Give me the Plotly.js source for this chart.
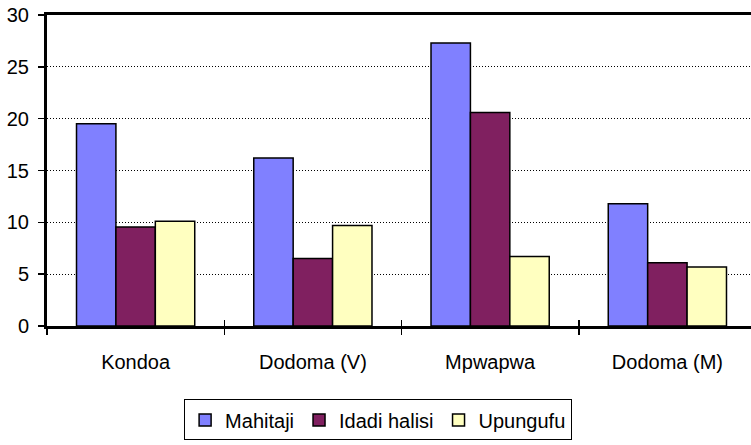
<!DOCTYPE html>
<html><head><meta charset="utf-8">
<script src="https://cdn.plot.ly/plotly-3.0.1.min.js"></script>
<style>html,body{margin:0;padding:0;overflow:hidden;background:#fff;}#chart{width:760px;height:445px;}</style>
</head><body><div id="chart"></div>
<script>
const categories = ["Kondoa", "Dodoma (V)", "Mpwapwa", "Dodoma (M)"];
const seriesNames = ["Mahitaji", "Idadi halisi", "Upungufu"];
const mahitaji = [19.5, 16.2, 27.3, 11.8];
const idadiHalisi = [9.55, 6.5, 20.6, 6.1];
const upungufu = [10.1, 9.7, 6.7, 5.7];
const yTicks = [0, 5, 10, 15, 20, 25, 30];
const colors = ["#8080FF", "#802060", "#FFFFC0"];

const FONT = "Liberation Sans";
const values = [mahitaji, idadiHalisi, upungufu];
const traces = values.map((v, i) => ({
  type: "bar", x: categories, y: v, name: seriesNames[i],
  marker: {color: colors[i], line: {color: "#000", width: 1.5}},
  hoverinfo: "skip"
}));
traces.push({type: "scatter", x: categories, y: [null, null, null, null], xaxis: "x2", yaxis: "y",
  showlegend: false, hoverinfo: "skip", mode: "markers"});

const layout = {
  width: 760, height: 445,
  margin: {l: 47, r: 4, t: 15, b: 116},
  paper_bgcolor: "#fff", plot_bgcolor: "#fff",
  barmode: "group", bargap: 0.333, bargroupgap: 0,
  font: {family: FONT, size: 20, color: "#000"},
  showlegend: true,
  legend: {orientation: "h", x: 0.467, xanchor: "center", y: -0.236, yanchor: "top",
    bordercolor: "#000", borderwidth: 1, font: {family: FONT, size: 20, color: "#000"},
    traceorder: "normal", itemwidth: 30, tracegroupgap: 0},
  xaxis: {type: "category", categoryarray: categories, range: [-0.5, 3.5],
    showline: true, linecolor: "#000", linewidth: 3, mirror: true,
    ticks: "outside", tickson: "boundaries", ticklen: 6, tickwidth: 1.5, tickcolor: "#000",
    showgrid: false, zeroline: false, tickfont: {family: FONT, size: 20}, ticklabelstandoff: 16},
  xaxis2: {type: "category", categoryarray: categories, range: [-0.5, 3.5], overlaying: "x",
    anchor: "y", side: "bottom", showline: false, showticklabels: false,
    ticks: "inside", tickson: "boundaries", ticklen: 6, tickwidth: 1.5, tickcolor: "#000",
    showgrid: false, zeroline: false},
  yaxis: {range: [0, 30], tickvals: yTicks, ticktext: yTicks.map(String),
    showline: true, linecolor: "#000", linewidth: 3, mirror: false,
    ticks: "outside", ticklen: 6, tickwidth: 1.5, tickcolor: "#000", ticklabelstandoff: 5,
    showgrid: true, gridcolor: "#000", gridwidth: 1, griddash: "1px,2px",
    zeroline: false, tickfont: {family: FONT, size: 20}}
};
Plotly.newPlot("chart", traces, layout, {staticPlot: true, displayModeBar: false});
</script></body></html>
